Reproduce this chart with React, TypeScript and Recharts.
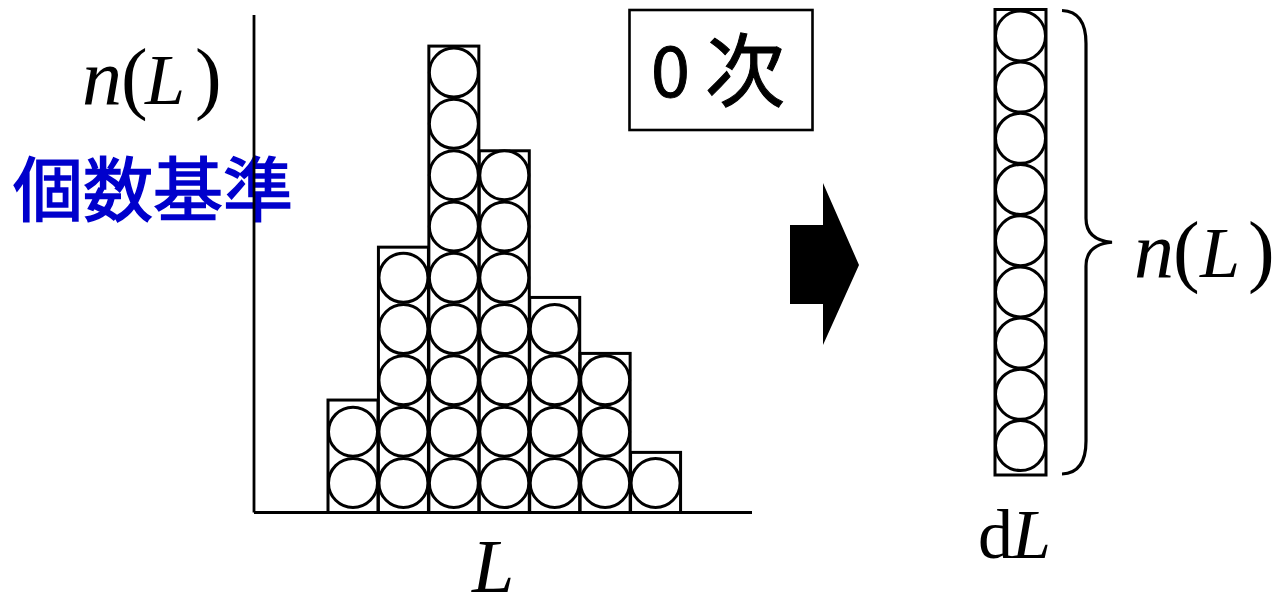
import React from 'react';
import { BarChart, Bar, XAxis, YAxis } from 'recharts';

// ---- data ----
const bins = ['L1', 'L2', 'L3', 'L4', 'L5', 'L6', 'L7'];
const circleCounts = [2, 5, 9, 7, 4, 3, 1];
const binHeights = [2.17, 5.12, 9.0, 6.98, 4.15, 3.07, 1.16];
const columnCategory = ['dL'];
const columnCounts = [9];
const Y_MAX = 9.6;
const COLUMN_MAX = 9;

const histData = bins.map((b, i) => ({ bin: b, count: circleCounts[i], height: binHeights[i] }));
const columnData = columnCategory.map((c, i) => ({ bin: c, count: columnCounts[i], height: columnCounts[i] }));

const SERIF = '"Liberation Serif", "Times New Roman", serif';
const CJK = '"Noto Sans CJK JP", "Noto Sans CJK SC", sans-serif';
const SW = 3;

function circlesFor(x: number, width: number, base: number, unit: number, count: number) {
  const cx = x + width / 2;
  const r = Math.min(unit * 0.485, width / 2 - 0.5);
  const out: any[] = [];
  for (let i = 0; i < count; i++) {
    const cy = base - (0.57 + i * 0.99) * unit;
    out.push(<circle key={i} cx={cx} cy={cy} r={r} fill="#fff" stroke="#000" strokeWidth={SW} />);
  }
  return out;
}

function StackShape(props: any) {
  const { x, y, width, height } = props;
  const p = props.payload || props;
  const h = p.height ?? props.value;
  const count = p.count ?? 0;
  const unit = height / h;
  const base = y + height;
  return (
    <g>
      <rect x={x} y={y} width={width} height={height} fill="#fff" stroke="#000" strokeWidth={SW} />
      {circlesFor(x, width, base, unit, count)}
    </g>
  );
}

function ColumnShape(props: any) {
  const { x, y, width, height } = props;
  const p = props.payload || props;
  const h = p.height ?? props.value;
  const count = p.count ?? 0;
  const unit = height / h;
  const base = y + height;
  const right = x + width;
  const mid = y + height / 2;
  const bx0 = right + 16;
  const bx1 = right + 40;
  const bx2 = right + 66;
  const d = `M${bx0},${y + 1} Q${bx1},${y + 2} ${bx1},${y + 34} L${bx1},${mid - 24} Q${bx1},${mid - 2} ${bx2},${mid} Q${bx1},${mid + 2} ${bx1},${mid + 24} L${bx1},${base - 34} Q${bx1},${base - 2} ${bx0},${base - 1}`;
  return (
    <g>
      <rect x={x} y={y} width={width} height={height} fill="#fff" stroke="#000" strokeWidth={SW} />
      {circlesFor(x, width, base, unit, count)}
      <path d={d} fill="none" stroke="#000" strokeWidth={3.2} />
    </g>
  );
}

export default function App() {
  const layer: React.CSSProperties = { position: 'absolute', left: 0, top: 0 };
  return (
    <div style={{ position: 'absolute', left: 0, top: 0, width: 1276, height: 608, background: '#fff', overflow: 'hidden' }}>
      <svg width={1276} height={608} style={layer}>
        {/* left n(L) */}
        <text y={104} fontFamily={SERIF} fill="#000">
          <tspan x={82} fontStyle="italic" fontSize={80}>n</tspan>
          <tspan x={121} fontSize={80}>(</tspan>
          <tspan x={145} fontStyle="italic" fontSize={72}>L</tspan>
          <tspan x={195} fontSize={80}>)</tspan>
        </text>
        <text x={13} y={216} fontFamily={CJK} fontSize={70} fontWeight={400} fill="#0000cc" stroke="#0000cc" strokeWidth={1.6}>個数基準</text>
        {/* 0次 box */}
        <rect x={629.5} y={10} width={183} height={120} fill="#fff" stroke="#000" strokeWidth={2.6} />
        <text x={651} y={97} fontFamily={CJK} fontSize={70} fill="#000" stroke="#000" strokeWidth={1}>0</text>
        <text x={705} y={100} fontFamily={CJK} fontSize={80} fill="#000" stroke="#000" strokeWidth={1}>次</text>
        {/* arrow */}
        <polygon points="790,225 823,225 823,183 859,265 823,345 823,304 790,304" fill="#000" />
        {/* x label */}
        <text x={472} y={592} fontFamily={SERIF} fontStyle="italic" fontSize={76} fill="#000">L</text>
        {/* right n(L) */}
        <text y={277} fontFamily={SERIF} fill="#000">
          <tspan x={1134} fontStyle="italic" fontSize={80}>n</tspan>
          <tspan x={1173} fontSize={80}>(</tspan>
          <tspan x={1200} fontStyle="italic" fontSize={72}>L</tspan>
          <tspan x={1248} fontSize={80}>)</tspan>
        </text>
        {/* dL */}
        <text y={558} fontFamily={SERIF} fill="#000" fontSize={70}>
          <tspan x={978}>d</tspan>
          <tspan x={1012} fontStyle="italic">L</tspan>
        </text>
      </svg>
      <div style={layer}>
        <BarChart
          width={1276}
          height={608}
          data={histData}
          margin={{ top: 15, right: 524, bottom: 94.5, left: 253 }}
          barCategoryGap={0}
        >
          <XAxis
            dataKey="bin"
            height={1}
            tick={false}
            tickLine={false}
            axisLine={{ stroke: '#000', strokeWidth: 2.8 }}
            padding={{ left: 74, right: 71 }}
          />
          <YAxis
            type="number"
            width={1}
            domain={[0, Y_MAX]}
            tick={false}
            tickLine={false}
            axisLine={{ stroke: '#000', strokeWidth: 2.8 }}
            allowDataOverflow
          />
          <Bar dataKey="height" isAnimationActive={false} shape={<StackShape />} />
        </BarChart>
      </div>
      <div style={layer}>
        <BarChart
          width={1276}
          height={608}
          data={columnData}
          margin={{ top: 9.5, right: 230, bottom: 133, left: 995 }}
          barCategoryGap={0}
        >
          <XAxis dataKey="bin" hide />
          <YAxis type="number" hide domain={[0, COLUMN_MAX]} />
          <Bar dataKey="height" isAnimationActive={false} shape={<ColumnShape />} />
        </BarChart>
      </div>
    </div>
  );
}
